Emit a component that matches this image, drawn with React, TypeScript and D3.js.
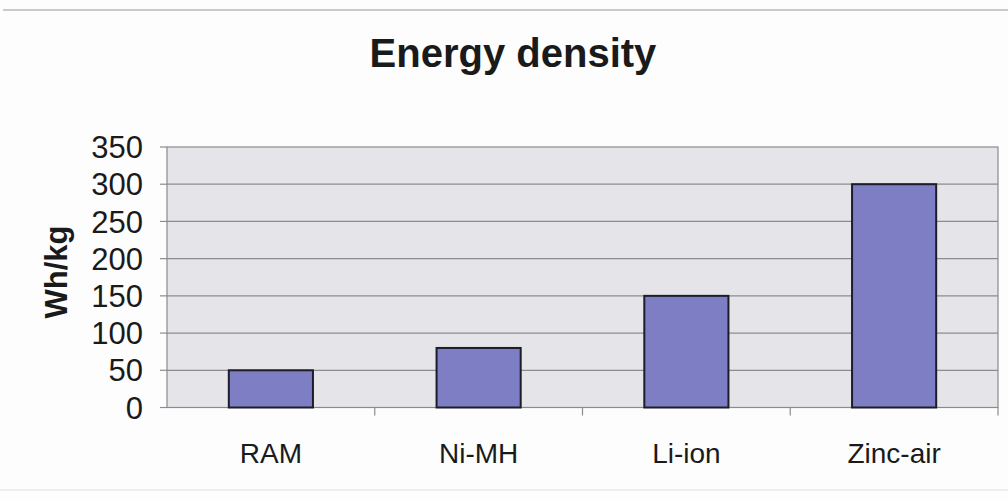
import React from "react";
import * as d3 from "d3";

const categories = ["RAM", "Ni-MH", "Li-ion", "Zinc-air"];
const values = [50, 80, 150, 300];
const yTicks = [0, 50, 100, 150, 200, 250, 300, 350];

const W = 1008;
const H = 500;
const plot = { left: 167, right: 998, top: 147, bottom: 407.5 };

export default function App() {
  const x = d3
    .scaleBand<string>()
    .domain(categories)
    .range([plot.left, plot.right])
    .paddingInner(0)
    .paddingOuter(0);
  const y = d3.scaleLinear().domain([0, 350]).range([plot.bottom, plot.top]);
  const barW = x.bandwidth() * 0.405;
  const font = "'Liberation Sans', Arial, sans-serif";

  return (
    <svg
      width={W}
      height={H}
      style={{ position: "absolute", left: 0, top: 0, background: "#fdfdfd" }}
      fontFamily={font}
    >
      <line x1={3} x2={1008} y1={10} y2={10} stroke="#b8b8b8" strokeWidth={1.5} />
      <line x1={0} x2={1008} y1={490} y2={490} stroke="#eeeeee" strokeWidth={2} />

      <text x={513} y={67} textAnchor="middle" fontSize={40} fontWeight="bold" fill="#1a1a1a">
        Energy density
      </text>

      <rect
        x={plot.left}
        y={plot.top}
        width={plot.right - plot.left}
        height={plot.bottom - plot.top}
        fill="#e5e5e9"
        stroke="#8a8a8a"
        strokeWidth={1.2}
      />

      {yTicks.map((t) => (
        <g key={t}>
          {t > 0 && t < 350 && (
            <line x1={plot.left} x2={plot.right} y1={y(t)} y2={y(t)} stroke="#8c8c8c" strokeWidth={1.2} />
          )}
          <line x1={plot.left - 7} x2={plot.left} y1={y(t)} y2={y(t)} stroke="#8c8c8c" strokeWidth={1.2} />
          <text x={143} y={y(t)} dy="0.36em" textAnchor="end" fontSize={31} fill="#1a1a1a">
            {t}
          </text>
        </g>
      ))}

      {categories.map((c, i) => (
        <line
          key={"tk" + c}
          x1={x(c)!}
          x2={x(c)!}
          y1={plot.bottom}
          y2={plot.bottom + 8}
          stroke="#8c8c8c"
          strokeWidth={1.2}
          opacity={i === 0 ? 0 : 1}
        />
      ))}
      <line x1={plot.right} x2={plot.right} y1={plot.bottom} y2={plot.bottom + 8} stroke="#8c8c8c" strokeWidth={1.2} />

      {categories.map((c, i) => {
        const cx = x(c)! + x.bandwidth() / 2;
        return (
          <g key={c}>
            <rect
              x={cx - barW / 2}
              y={y(values[i])}
              width={barW}
              height={plot.bottom - y(values[i])}
              fill="#7e7ec4"
              stroke="#1c1c2a"
              strokeWidth={2}
            />
            <text x={cx} y={463} textAnchor="middle" fontSize={28} fill="#1a1a1a">
              {c}
            </text>
          </g>
        );
      })}

      <text
        transform={`translate(67, 272) rotate(-90)`}
        textAnchor="middle"
        fontSize={31}
        fontWeight="bold"
        fill="#1a1a1a"
      >
        Wh/kg
      </text>
    </svg>
  );
}
